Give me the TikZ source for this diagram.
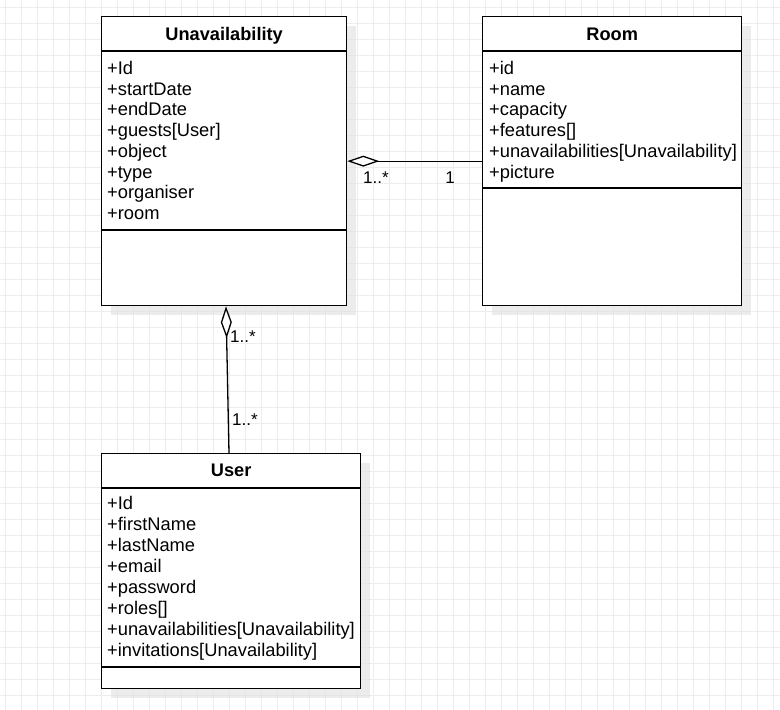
\documentclass[tikz,border=0pt]{standalone}
\usepackage{fontspec}
\setmainfont{Liberation Sans}
\usetikzlibrary{arrows.meta,shadows,calc}
\tikzstyle{classbox} = [rectangle, draw=black, line width=1.3pt, fill=white, anchor=north west, inner sep=0pt, drop shadow={shadow xshift=9pt, shadow yshift=-9pt, fill=black!12, opacity=0.6}]
\tikzstyle{classname} = [font=\fontsize{18.2}{21}\selectfont\bfseries, inner sep=0pt, anchor=base]
\tikzstyle{attr} = [font=\fontsize{18.3}{21}\selectfont, inner sep=0pt, anchor=base west]
\tikzstyle{divider} = [line width=1.3pt]
\tikzstyle{aggr} = [line width=1.3pt, {Diamond[fill=white, length=32pt, width=11pt]}-]
\tikzstyle{mult} = [font=\fontsize{17}{20}\selectfont, inner sep=0pt]
\tikzstyle{gridline} = [draw=black!7, line width=0.8pt]
\begin{document}
\begin{tikzpicture}[x=1pt, y=-1pt]
\useasboundingbox (0,0) rectangle (780,710);

% Background grid
	\foreach \gx in {5,21,...,780} \draw[gridline] (\gx,0) -- (\gx,710);
	\foreach \gy in {7,23,...,710} \draw[gridline] (0,\gy) -- (780,\gy);


% Unavailability class

	\node (unav) [classbox, minimum width=245, minimum height=289] at (101,16) {};
	\node (unavName) [classname] at ($(unav.north)+(0,24.5)$) {Unavailability};
	\draw[divider] ($(unav.north west)+(0,35)$) -- ($(unav.north east)+(0,35)$);
	\draw[divider] ($(unav.north west)+(0,214)$) -- ($(unav.north east)+(0,214)$);
	\foreach \a [count=\i] in {Id,startDate,endDate,guests[User],object,type,organiser,room}
		\node (unavAttr\i) [attr] at ($(unav.north west)+(6,58.5+20.7*\i-20.7)$) {+\a};


% Room class

	\node (room) [classbox, minimum width=259, minimum height=289] at (482,16) {};
	\node (roomName) [classname] at ($(room.north)+(0,24.5)$) {Room};
	\draw[divider] ($(room.north west)+(0,35)$) -- ($(room.north east)+(0,35)$);
	\draw[divider] ($(room.north west)+(0,172)$) -- ($(room.north east)+(0,172)$);
	\foreach \a [count=\i] in {id,name,capacity,features[],unavailabilities[Unavailability],picture}
		\node (roomAttr\i) [attr] at ($(room.north west)+(7,58.5+20.7*\i-20.7)$) {+\a};


% User class

	\node (user) [classbox, minimum width=259, minimum height=235] at (101,453) {};
	\node (userName) [classname] at ($(user.north)+(0,23.5)$) {User};
	\draw[divider] ($(user.north west)+(0,35)$) -- ($(user.north east)+(0,35)$);
	\draw[divider] ($(user.north west)+(0,214)$) -- ($(user.north east)+(0,214)$);
	\foreach \a [count=\i] in {Id,firstName,lastName,email,password,roles[],unavailabilities[Unavailability],invitations[Unavailability]}
		\node (userAttr\i) [attr] at ($(user.north west)+(6,56.5+21*\i-21)$) {+\a};


% Unavailability - Room aggregation
	\draw[aggr] (unav.east) -- (room.west);
	\node (multUnavRoom) [mult] at (376,178) {1..*};
	\node (multRoomUnav) [mult] at (450,178) {1};


% Unavailability - User aggregation
	\draw[aggr] ($(unav.south west)+(125,0)$) -- ($(user.north west)+(128,0)$);
	\node (multUnavUser) [mult] at (243,337) {1..*};
	\node (multUserUnav) [mult] at (245,420) {1..*};


\end{tikzpicture}
\end{document}
